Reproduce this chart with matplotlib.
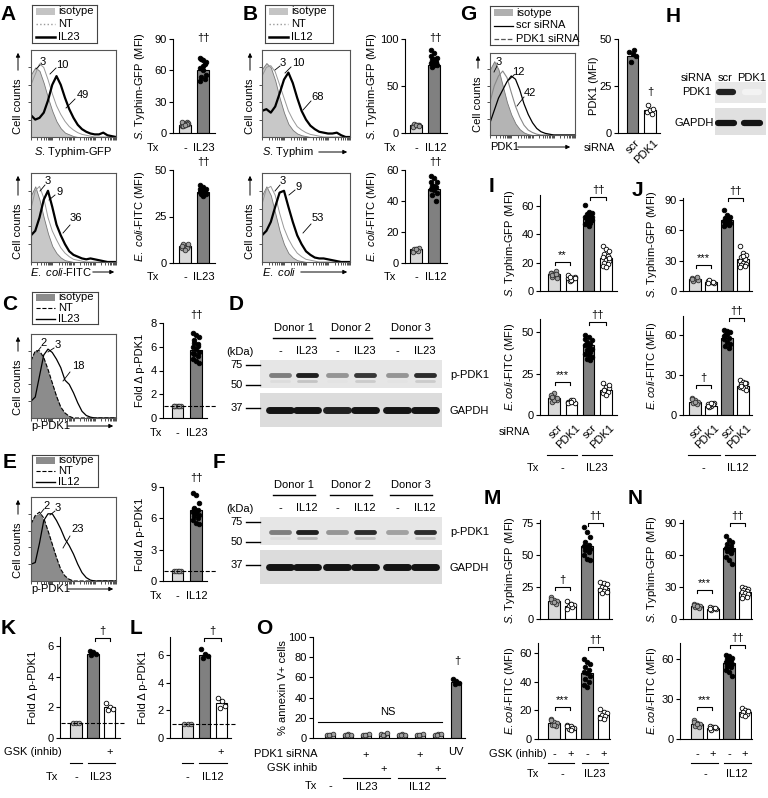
import numpy as np
import matplotlib
matplotlib.use('Agg')
import matplotlib.pyplot as plt
from matplotlib.lines import Line2D
from matplotlib.patches import Rectangle, FancyArrowPatch

plt.rcParams['font.family'] = ['Liberation Sans', 'DejaVu Sans']
plt.rcParams['mathtext.fontset'] = 'custom'
plt.rcParams['mathtext.rm'] = 'Liberation Sans'
plt.rcParams['mathtext.it'] = 'Liberation Sans:italic'
plt.rcParams['font.size'] = 8

# ---------------- data ----------------
# flow histograms, fraction of axis height on a 21 point grid along the log axis
hA1_iso = [0.72, 0.80, 0.76, 0.62, 0.45, 0.30, 0.18, 0.10, 0.05, 0.03, 0.01, 0, 0, 0, 0, 0, 0, 0, 0, 0, 0]
hA1_nt = [0.60, 0.72, 0.84, 0.80, 0.66, 0.50, 0.36, 0.26, 0.18, 0.12, 0.08, 0.05, 0.03, 0.02, 0.01, 0, 0, 0, 0, 0, 0]
hA1_tx = [0.25, 0.20, 0.22, 0.28, 0.42, 0.60, 0.70, 0.60, 0.45, 0.32, 0.22, 0.14, 0.09, 0.06, 0.04, 0.03, 0.03, 0.05, 0.02, 0.01, 0]
hA2_iso = [0.75, 0.85, 0.70, 0.50, 0.32, 0.18, 0.10, 0.05, 0.02, 0.01, 0, 0, 0, 0, 0, 0, 0, 0, 0, 0, 0]
hA2_nt = [0.60, 0.80, 0.85, 0.72, 0.50, 0.35, 0.25, 0.16, 0.10, 0.06, 0.03, 0.02, 0.01, 0, 0, 0, 0, 0, 0, 0, 0]
hA2_tx = [0.30, 0.35, 0.50, 0.70, 0.80, 0.62, 0.42, 0.30, 0.20, 0.12, 0.08, 0.06, 0.04, 0.03, 0.04, 0.03, 0.02, 0.01, 0, 0, 0]
hB1_iso = [0.78, 0.85, 0.80, 0.65, 0.45, 0.28, 0.15, 0.08, 0.04, 0.02, 0.01, 0, 0, 0, 0, 0, 0, 0, 0, 0, 0]
hB1_nt = [0.70, 0.80, 0.82, 0.75, 0.60, 0.45, 0.30, 0.20, 0.12, 0.08, 0.05, 0.03, 0.02, 0.01, 0, 0, 0, 0, 0, 0, 0]
hB1_tx = [0.30, 0.32, 0.28, 0.35, 0.50, 0.66, 0.74, 0.62, 0.45, 0.30, 0.20, 0.13, 0.09, 0.06, 0.05, 0.04, 0.04, 0.05, 0.02, 0, 0]
hB2_iso = [0.75, 0.85, 0.75, 0.55, 0.35, 0.20, 0.10, 0.05, 0.02, 0.01, 0, 0, 0, 0, 0, 0, 0, 0, 0, 0, 0]
hB2_nt = [0.65, 0.82, 0.85, 0.75, 0.55, 0.38, 0.26, 0.17, 0.10, 0.06, 0.03, 0.02, 0.01, 0, 0, 0, 0, 0, 0, 0, 0]
hB2_tx = [0.30, 0.35, 0.45, 0.62, 0.78, 0.80, 0.62, 0.45, 0.30, 0.20, 0.12, 0.08, 0.05, 0.04, 0.04, 0.03, 0.02, 0.01, 0, 0, 0]
hC_iso = [0.70, 0.80, 0.78, 0.70, 0.55, 0.40, 0.25, 0.12, 0.05, 0.02, 0, 0, 0, 0, 0, 0, 0, 0, 0, 0, 0]
hC_nt = [0.68, 0.80, 0.80, 0.72, 0.58, 0.42, 0.26, 0.13, 0.06, 0.02, 0, 0, 0, 0, 0, 0, 0, 0, 0, 0, 0]
hC_tx = [0.20, 0.25, 0.50, 0.75, 0.82, 0.78, 0.70, 0.60, 0.45, 0.40, 0.30, 0.18, 0.08, 0.03, 0.01, 0, 0, 0, 0, 0, 0]
hE_iso = [0.70, 0.78, 0.80, 0.72, 0.58, 0.42, 0.26, 0.12, 0.05, 0.02, 0, 0, 0, 0, 0, 0, 0, 0, 0, 0, 0]
hE_nt = [0.68, 0.78, 0.82, 0.75, 0.60, 0.44, 0.28, 0.14, 0.06, 0.02, 0, 0, 0, 0, 0, 0, 0, 0, 0, 0, 0]
hE_tx = [0.20, 0.22, 0.45, 0.72, 0.80, 0.80, 0.72, 0.62, 0.50, 0.42, 0.32, 0.20, 0.10, 0.04, 0.01, 0, 0, 0, 0, 0, 0]
hG_iso = [0.80, 0.90, 0.80, 0.60, 0.40, 0.25, 0.14, 0.07, 0.03, 0.01, 0, 0, 0, 0, 0, 0, 0, 0, 0, 0, 0]
hG_pdk = [0.40, 0.60, 0.72, 0.78, 0.70, 0.52, 0.35, 0.22, 0.12, 0.06, 0.03, 0.01, 0, 0, 0, 0, 0, 0, 0, 0, 0]
hG_scr = [0.15, 0.30, 0.45, 0.55, 0.65, 0.72, 0.68, 0.55, 0.38, 0.25, 0.15, 0.08, 0.04, 0.02, 0.01, 0, 0, 0, 0, 0, 0]

# bar charts: means and individual donors
A1_means = [8, 60]
A1_dots = [[7, 8, 9, 10, 11, 8, 9, 10, 7, 9, 11, 8], [72, 70, 68, 71, 66, 62, 60, 56, 54, 52, 50, 64]]
A2_means = [9, 38]
A2_dots = [[8, 9, 9, 10, 8, 9, 7, 10], [42, 41, 40, 39, 38, 38, 39, 37, 37, 38, 40, 36]]
B1_means = [8, 72]
B1_dots = [[7, 8, 9, 10, 8, 6, 9, 7], [88, 85, 80, 78, 76, 74, 72, 72, 70, 75, 82, 79]]
B2_means = [9, 48]
B2_dots = [[8, 9, 10, 9, 8, 7, 9], [56, 55, 52, 50, 49, 48, 47, 45, 44, 40, 52, 50]]
C_means = [1, 5.7]
C_dots = [[1, 1, 1, 1, 1, 1], [7.2, 7.0, 6.8, 6.6, 6.2, 6.0, 5.8, 5.6, 5.4, 5.2, 5.0, 4.8, 4.6, 6.3, 6.1, 5.5]]
E_means = [1, 6.8]
E_dots = [[1, 1, 1, 1, 1], [8.4, 8.2, 7.5, 7.0, 6.8, 6.6, 6.5, 6.3, 6.2, 6.0, 5.8, 5.6, 5.5, 6.9]]
G_means = [41, 12]
G_dots = [[43, 42, 41, 38, 44], [11, 12, 13, 15, 10]]
I1_means = [12, 9, 51, 23]
I1_dots = [[13, 12, 11, 10, 14, 13, 12, 9, 11, 12], [9, 8, 10, 7, 9, 11, 8, 9, 10],
           [61, 56, 55, 54, 53, 52, 51, 50, 49, 48, 47, 46, 52, 51], [32, 30, 28, 26, 25, 24, 22, 21, 20, 19, 18, 17, 23]]
I2_means = [10, 8, 42, 15]
I2_dots = [[11, 13, 9, 8, 10, 12, 9, 10, 11], [8, 9, 7, 8, 9, 7, 8],
           [48, 47, 45, 44, 43, 42, 41, 40, 39, 38, 37, 36, 35, 34, 33, 46], [19, 17, 16, 15, 14, 13, 12, 18, 15]]
J1_means = [12, 9, 70, 32]
J1_dots = [[13, 12, 11, 10, 14, 12], [10, 9, 8, 11, 9, 8],
           [80, 75, 73, 72, 70, 69, 68, 67, 66, 65, 64, 71], [45, 38, 36, 34, 32, 30, 28, 27, 26, 25, 24, 35]]
J2_means = [10, 7, 58, 22]
J2_dots = [[13, 11, 10, 9, 8, 12, 10], [8, 7, 9, 6, 8, 7, 9],
           [64, 63, 62, 60, 58, 57, 55, 53, 52, 50, 59, 61], [26, 25, 24, 23, 22, 21, 20, 19, 22, 24]]
M1_means = [14, 10, 57, 24]
M1_dots = [[17, 15, 14, 13, 12, 16, 13], [14, 12, 11, 10, 9, 8, 12],
           [72, 68, 64, 60, 58, 57, 56, 55, 54, 52, 50, 47, 46], [29, 28, 27, 25, 24, 23, 22, 21, 20]]
M2_means = [11, 8, 46, 17]
M2_dots = [[14, 12, 11, 10, 9, 13, 10], [10, 9, 8, 7, 8, 9, 6],
           [56, 54, 52, 50, 48, 47, 46, 44, 42, 40, 38, 36], [21, 19, 18, 17, 16, 15, 14]]
N1_means = [12, 9, 67, 25]
N1_dots = [[14, 13, 12, 11, 10, 13, 12], [11, 10, 9, 8, 10, 9],
           [78, 74, 72, 70, 68, 67, 66, 65, 64, 62, 58, 55, 52], [30, 29, 28, 27, 26, 25, 24, 23, 22, 21, 20]]
N2_means = [11, 8, 57, 20]
N2_dots = [[14, 12, 11, 10, 9, 13, 11], [10, 9, 8, 7, 9, 8],
           [63, 62, 61, 60, 59, 58, 57, 56, 55, 54, 52, 50, 47], [23, 22, 21, 20, 19, 18, 17, 21]]
K_means = [1, 5.5, 2.0]
K_dots = [[1.0, 1.0, 1.0], [5.7, 5.6, 5.5, 5.4], [2.3, 2.0, 1.9, 1.8]]
L_means = [1, 6.0, 2.5]
L_dots = [[1.0, 1.0, 1.0], [6.4, 6.1, 5.9, 5.8], [2.9, 2.7, 2.3, 2.2]]
O_means = [3, 3, 3, 3, 3, 3, 3, 55]
O_dots = [[3, 3, 4, 3], [3, 4, 3, 3], [3, 3, 4, 3], [4, 3, 5, 3], [3, 4, 3, 3], [3, 3, 4, 3], [3, 4, 4, 3], [58, 56, 54, 53]]

# western blot band intensities (0..1), lanes: -, IL, -, IL, -, IL
D_pPDK1 = [0.55, 0.95, 0.45, 0.85, 0.45, 0.90]
D_lower = [0.15, 0.25, 0.12, 0.22, 0.12, 0.22]
D_gapdh = [1.0, 1.0, 0.95, 1.0, 1.0, 1.0]
F_pPDK1 = [0.55, 0.95, 0.45, 0.90, 0.40, 0.90]
F_lower = [0.15, 0.30, 0.12, 0.25, 0.12, 0.25]
F_gapdh = [1.0, 1.0, 1.0, 1.0, 1.0, 1.0]
H_pdk1 = [0.95, 0.05]
H_gapdh = [1.0, 1.0]

# ---------------- helpers ----------------
W, H = 768, 798
fig = plt.figure(figsize=(W / 100, H / 100), dpi=100)

BAR = {'c': '#d9d9d9', 't': '#808080', 'w': 'white'}
DOT = {'c': '#a0a0a0', 't': 'black', 'w': 'white'}
EDGE = {'c': '#303030', 't': 'black', 'w': 'black'}

S_TY = r'$\mathit{S.}\,$Typhim'
E_CO = r'$\mathit{E.\ coli}$'


def fx(x):
    return x / W


def fy(y):
    return 1 - y / H


def text(x, y, s, size=8, ha='center', va='center', **kw):
    fig.text(fx(x), fy(y), s, size=size, ha=ha, va=va, **kw)


def line(xs, ys, lw=0.8, color='k', **kw):
    fig.add_artist(Line2D([fx(x) for x in xs], [fy(y) for y in ys], color=color, lw=lw, **kw))


def arrow(x0, y0, x1, y1):
    fig.add_artist(FancyArrowPatch((fx(x0), fy(y0)), (fx(x1), fy(y1)), transform=fig.transFigure,
                                   arrowstyle='-|>', mutation_scale=6, lw=0.7, color='k'))


def box_ax(x0, y0, x1, y1):
    return fig.add_axes([fx(x0), fy(y1), (x1 - x0) / W, (y1 - y0) / H])


def bracket(x0, x1, y, s):
    line([x0, x0, x1, x1], [y + 3, y, y, y + 3])
    text((x0 + x1) / 2, y - 7, s, size=8)


def panel_letter(x, y, s):
    text(x, y, s, size=15, weight='bold')


def legend_box(x0, y0, x1, y1, entries):
    ax = box_ax(x0, y0, x1, y1)
    ax.set_xlim(x0, x1)
    ax.set_ylim(y1, y0)
    ax.set_xticks([])
    ax.set_yticks([])
    for sp in ax.spines.values():
        sp.set_linewidth(0.8)
        sp.set_color('#444444')
    n = len(entries)
    for i, (lab, kind, col, ls, lw) in enumerate(entries):
        yy = y0 + (i + 0.5) * (y1 - y0) / n
        if kind == 'fill':
            ax.add_patch(Rectangle((x0 + 4, yy - 3.5), 19, 7, color=col, lw=0))
        else:
            ax.plot([x0 + 4, x0 + 23], [yy, yy], color=col, ls=ls, lw=lw)
        ax.text(x0 + 26, yy, lab, va='center', ha='left', size=8)


def hist_panel(x0, y0, x1, y1, curves, marks):
    ax = box_ax(x0, y0, x1, y1)
    xs = np.linspace(0, 1, 21)
    for vals, kind, col, ls, lw in curves:
        if kind == 'fill':
            ax.fill_between(xs, vals, color=col, lw=0.6, edgecolor='#777777')
        else:
            ax.plot(xs, vals, color=col, ls=ls, lw=lw)
    ax.set_xlim(0, 1)
    ax.set_ylim(0, 1)
    minor = [d * 0.25 + np.log10(k) * 0.25 for d in range(4) for k in range(1, 10)]
    ax.set_xticks(minor + [1.0])
    ax.set_xticklabels([])
    ax.set_yticks([0.2, 0.4, 0.6, 0.8])
    ax.set_yticklabels([])
    ax.tick_params(length=2, width=0.6, colors='#333333')
    for sp in ax.spines.values():
        sp.set_linewidth(0.8)
        sp.set_color('#555555')
    for s, tx, ty, lx0, ly0, lx1, ly1 in marks:
        text(tx, ty, s, size=8)
        line([lx0, lx1], [ly0, ly1], lw=0.6)
    return ax


def cell_counts(x, ybot, ytop):
    text(x, ybot - 31, 'Cell counts', rotation=90)
    arrow(x, ybot - 64, x, ytop)


def bar_panel(x0, x1, zero, tick_px, tick_val, ytop, yticks, c0, sp, means, dots, styles,
              ylabel, ylab_x, bw=11.5, pos=None):
    ppu = (zero - tick_px) / tick_val
    top = zero - ytop * ppu
    ax = box_ax(x0, top, x1, zero)
    ax.set_ylim(0, ytop)
    ax.set_xlim((x0 - c0) / sp, (x1 - c0) / sp)
    w = bw / sp
    if pos is None:
        pos = range(len(means))
    for i, m, d, st in zip(pos, means, dots, styles):
        ax.bar(i, m, width=w, color=BAR[st], edgecolor='k', lw=0.8, zorder=2)
        offs = np.resize([-0.28, 0.0, 0.28, -0.14, 0.14], len(d)) * w
        ax.scatter(i + offs, d, s=11, c=DOT[st], edgecolors=EDGE[st], linewidths=0.6,
                   zorder=3, clip_on=False)
    ax.set_yticks(yticks)
    ax.set_xticks([])
    ax.spines['top'].set_visible(False)
    ax.spines['right'].set_visible(False)
    ax.spines['left'].set_linewidth(0.8)
    ax.spines['bottom'].set_linewidth(0.8)
    ax.tick_params(axis='y', length=3, width=0.8, pad=1.5, labelsize=8)
    text(ylab_x, (top + zero) / 2, ylabel, rotation=90)
    return ax


def blot(x0, y0, x1, y1, lanes, rows, bg='#e4e4e4'):
    ax = box_ax(x0, y0, x1, y1)
    ax.set_xlim(x0, x1)
    ax.set_ylim(y1, y0)
    ax.set_facecolor(bg)
    ax.set_xticks([])
    ax.set_yticks([])
    for s in ax.spines.values():
        s.set_visible(False)
    for yb, vals, lw, hw in rows:
        for xl, v in zip(lanes, vals):
            g = 1 - 0.92 * v
            ax.plot([xl - hw, xl + hw], [yb, yb], color=(g, g, g), lw=lw, solid_capstyle='round')


# ---------------- panel A ----------------
panel_letter(8, 15, 'A')
legend_box(32, 5, 97, 43, [('isotype', 'fill', '#c4c4c4', '-', 1), ('NT', 'line', '#999999', ':', 1.0),
                           ('IL23', 'line', 'black', '-', 1.8)])
hist_panel(31, 50, 116, 137, [(hA1_iso, 'fill', '#c8c8c8', '-', 1), (hA1_nt, 'line', '#999999', '-', 0.7),
                              (hA1_tx, 'line', 'black', '-', 1.6)],
           [('3', 43, 62, 36, 69, 40, 65), ('10', 62, 65, 50, 74, 56, 68), ('49', 83, 95, 66, 108, 75, 99)])
cell_counts(18, 137, 50)
text(73, 152, S_TY + '-GFP')
hist_panel(31, 173, 116, 262, [(hA2_iso, 'fill', '#c8c8c8', '-', 1), (hA2_nt, 'line', '#999999', '-', 0.7),
                               (hA2_tx, 'line', 'black', '-', 1.6)],
           [('3', 48, 181, 40, 191, 45, 185), ('9', 60, 192, 49, 200, 55, 195), ('36', 76, 218, 63, 233, 70, 225)])
cell_counts(18, 262, 173)
text(30, 272, E_CO + '-FITC', ha='left')
arrow(90, 272, 117, 272)

bar_panel(173, 215, 133, 39, 90, 90, [0, 30, 60, 90], 185, 18, A1_means, A1_dots, 'ct',
          S_TY + '-GFP (MFI)', 140)
text(203, 38, '††', size=8)
text(153, 148, 'Tx')
text(185, 148, '-')
text(204, 148, 'IL23')
bar_panel(173, 215, 263, 170, 50, 50, [0, 25, 50], 185, 18, A2_means, A2_dots, 'ct',
          E_CO + '-FITC (MFI)', 140)
text(203, 162, '††', size=8)
text(153, 277, 'Tx')
text(185, 277, '-')
text(204, 277, 'IL23')

# ---------------- panel B ----------------
panel_letter(250, 15, 'B')
legend_box(265, 5, 333, 43, [('isotype', 'fill', '#c4c4c4', '-', 1), ('NT', 'line', '#999999', ':', 1.0),
                             ('IL12', 'line', 'black', '-', 1.8)])
hist_panel(262, 50, 350, 137, [(hB1_iso, 'fill', '#c8c8c8', '-', 1), (hB1_nt, 'line', '#999999', '-', 0.7),
                               (hB1_tx, 'line', 'black', '-', 1.6)],
           [('3', 283, 63, 275, 70, 280, 66), ('10', 298, 63, 285, 73, 291, 67), ('68', 318, 97, 303, 110, 311, 101)])
cell_counts(250, 137, 50)
text(262, 152, S_TY, ha='left')
arrow(316, 152, 350, 152)
hist_panel(262, 173, 350, 262, [(hB2_iso, 'fill', '#c8c8c8', '-', 1), (hB2_nt, 'line', '#999999', '-', 0.7),
                                (hB2_tx, 'line', 'black', '-', 1.6)],
           [('3', 283, 181, 275, 191, 280, 185), ('9', 299, 187, 289, 195, 295, 190), ('53', 318, 218, 303, 233, 311, 224)])
cell_counts(250, 262, 173)
text(262, 272, E_CO, ha='left')
arrow(298, 272, 350, 272)

bar_panel(405, 447, 133, 39, 100, 100, [0, 50, 100], 416, 18, B1_means, B1_dots, 'ct',
          S_TY + '-GFP (MFI)', 372)
text(435, 38, '††', size=8)
text(390, 148, 'Tx')
text(416, 148, '-')
text(436, 148, 'IL12')
bar_panel(405, 447, 263, 170, 60, 60, [0, 20, 40, 60], 416, 18, B2_means, B2_dots, 'ct',
          E_CO + '-FITC (MFI)', 372)
text(435, 162, '††', size=8)
text(390, 277, 'Tx')
text(416, 277, '-')
text(436, 277, 'IL12')

# ---------------- panel G / H ----------------
panel_letter(468, 15, 'G')
legend_box(490, 6, 578, 45, [('isotype', 'fill', '#b0b0b0', '-', 1), ('scr siRNA', 'line', 'black', '-', 0.9),
                             ('PDK1 siRNA', 'line', '#555555', '--', 0.9)])
hist_panel(490, 53, 575, 135, [(hG_iso, 'fill', '#b4b4b4', '-', 1), (hG_pdk, 'line', '#888888', '-', 0.8),
                               (hG_scr, 'line', 'black', '-', 0.9)],
           [('3', 499, 62, 494, 72, 497, 66), ('12', 518, 72, 509, 80, 514, 75), ('42', 530, 93, 517, 106, 524, 97)])
cell_counts(478, 135, 53)
text(490, 147, 'PDK1', ha='left')
arrow(515, 147, 573, 147)
bar_panel(618, 660, 133, 39, 50, 50, [0, 25, 50], 632.5, 17.5, G_means, G_dots, 'tw', 'PDK1 (MFI)', 594)
text(650, 92, '†', size=8)
text(599, 148, 'siRNA')
text(638, 141, 'scr', rotation=45, ha='right', rotation_mode='anchor')
text(657, 141, 'PDK1', rotation=45, ha='right', rotation_mode='anchor')

panel_letter(673, 17, 'H')
text(696, 78, 'siRNA')
text(725, 78, 'scr')
text(752, 78, 'PDK1')
blot(715, 82, 766, 103, [726, 752], [(92, H_pdk1, 4.5, 7)], bg='#e8e8e8')
blot(715, 108, 766, 135, [726, 752], [(123, H_gapdh, 4.5, 8)], bg='#e0e0e0')
text(697, 92, 'PDK1')
text(694, 123, 'GAPDH')


# ---------------- panels C / E ----------------
def phospho_block(y_off, tx_lab, hist_curves, marks, means, dots, ytop, yticks, tick_px, tick_val):
    legend_box(32, 292 + y_off, 98, 324 + y_off,
               [('isotype', 'fill', '#8c8c8c', '-', 1), ('NT', 'line', 'black', '--', 0.8),
                (tx_lab, 'line', 'black', '-', 1.0)])
    hist_panel(31, 334 + y_off, 116, 418 + y_off, hist_curves, marks)
    cell_counts(18, 418 + y_off, 334 + y_off)
    text(31, 426 + y_off, 'p-PDK1', ha='left')
    arrow(65, 426 + y_off, 116, 426 + y_off)
    ax = bar_panel(163, 207, 418 + y_off, tick_px + y_off, tick_val, ytop, yticks, 177.5, 18.5,
                   means, dots, 'ct', 'Fold Δ p-PDK1', 140)
    ax.plot([-0.75, 2.1], [1, 1], 'k--', lw=0.8, clip_on=False, zorder=4)
    text(196, 315 + y_off, '††', size=8)
    text(156, 433 + y_off, 'Tx')
    text(177, 433 + y_off, '-')
    text(197, 433 + y_off, tx_lab)


panel_letter(10, 304, 'C')
phospho_block(0, 'IL23',
              [(hC_iso, 'fill', '#8c8c8c', '-', 1), (hC_nt, 'line', 'black', '--', 0.8),
               (hC_tx, 'line', 'black', '-', 0.9)],
              [('2', 44, 343, 37, 352, 41, 347), ('3', 58, 345, 48, 352, 54, 348), ('18', 78, 366, 63, 381, 70, 372)],
              C_means, C_dots, 8, [0, 2, 4, 6, 8], 323, 8)
panel_letter(10, 463, 'E')
phospho_block(163, 'IL12',
              [(hE_iso, 'fill', '#8c8c8c', '-', 1), (hE_nt, 'line', 'black', '--', 0.8),
               (hE_tx, 'line', 'black', '-', 0.9)],
              [('2', 47, 506, 40, 514, 44, 509), ('3', 58, 508, 50, 515, 55, 511), ('23', 78, 529, 63, 548, 70, 536)],
              E_means, E_dots, 9, [0, 3, 6, 9], 487 - 163, 9)


# ---------------- panels D / F (blots) ----------------
def blot_block(y_off, tx_lab, p_vals, low_vals, g_vals):
    lanes = [280, 307, 337, 365, 397, 425]
    for i, cx in enumerate([294, 351, 411]):
        text(cx, 328 + y_off, 'Donor %d' % (i + 1))
        line([cx - 21, cx + 21], [338 + y_off, 338 + y_off], lw=1.0)
    text(240, 352 + y_off, '(kDa)')
    for i, cx in enumerate(lanes):
        text(cx, 351 + y_off, '-' if i % 2 == 0 else tx_lab)
    blot(260, 360 + y_off, 442, 388 + y_off, lanes,
         [(375 + y_off, p_vals, 3.5, 9), (381 + y_off, low_vals, 2.0, 9)], bg='#e6e6e6')
    blot(260, 393 + y_off, 442, 427 + y_off, lanes, [(410 + y_off, g_vals, 5.0, 11)], bg='#dcdcdc')
    for lab, yy in [('75', 365), ('50', 385), ('37', 408)]:
        text(243, yy + y_off, lab, ha='right')
        line([246, 260], [yy + y_off, yy + y_off], lw=1.0)
    text(450, 375 + y_off, 'p-PDK1', ha='left')
    text(450, 411 + y_off, 'GAPDH', ha='left')


panel_letter(236, 304, 'D')
blot_block(0, 'IL23', D_pPDK1, D_lower, D_gapdh)
panel_letter(219, 463, 'F')
blot_block(157, 'IL12', F_pPDK1, F_lower, F_gapdh)

# ---------------- panels I / J ----------------
panel_letter(492, 187, 'I')
panel_letter(637, 190, 'J')
stI = ['c', 'w', 't', 'w']
bar_panel(540, 617, 291, 206, 60, 68, [0, 20, 40, 60], 554, 17.3, I1_means, I1_dots, stI,
          S_TY + '-GFP (MFI)', 510)
bracket(590, 606, 197, '††')
bracket(555, 570, 262, '**')
bar_panel(540, 617, 415, 332, 50, 58, [0, 25, 50], 554, 17.3, I2_means, I2_dots, stI,
          r'$\mathit{E.coli}$-FITC (MFI)', 510)
bracket(589, 606, 322, '††')
bracket(555, 570, 382, '***')
bar_panel(683, 752, 291, 200, 90, 92, [0, 30, 60, 90], 695, 16, J1_means, J1_dots, stI,
          S_TY + '-GFP (MFI)', 652)
bracket(728, 743, 198, '††')
bracket(696, 711, 265, '***')
bar_panel(683, 752, 415, 335, 60, 74, [0, 30, 60], 695, 16, J2_means, J2_dots, stI,
          r'$\mathit{E.coli}$-FITC (MFI)', 652)
bracket(729, 744, 318, '††')
bracket(696, 711, 385, '†')

text(530, 432, 'siRNA', ha='right')
for cx, s in zip([554, 571.3, 588.6, 606], ['scr', 'PDK1', 'scr', 'PDK1']):
    text(cx + 7, 426, s, rotation=45, ha='right', rotation_mode='anchor')
for cx, s in zip([695, 711, 727, 743], ['scr', 'PDK1', 'scr', 'PDK1']):
    text(cx + 7, 426, s, rotation=45, ha='right', rotation_mode='anchor')
line([547, 577], [455, 455])
line([582, 612], [455, 455])
line([688, 720], [455, 455])
line([725, 755], [455, 455])
text(533, 468, 'Tx')
text(562, 468, '-')
text(597, 468, 'IL23')
text(703, 468, '-')
text(738, 468, 'IL12')

# ---------------- panels M / N ----------------
panel_letter(492, 498, 'M')
panel_letter(635, 498, 'N')
stM = ['c', 'w', 't', 'w']
bar_panel(540, 612, 619, 523, 75, 77, [0, 25, 50, 75], 554, 16.5, M1_means, M1_dots, stM,
          S_TY + '-GFP (MFI)', 510)
bracket(588, 603, 523, '††')
bracket(555, 570, 587, '†')
bar_panel(538, 610, 739, 653, 60, 67, [0, 20, 40, 60], 554, 16.5, M2_means, M2_dots, stM,
          r'$\mathit{E.coli}$-FITC (MFI)', 510)
bracket(588, 603, 647, '††')
bracket(555, 570, 707, '***')
bar_panel(683, 752, 619, 523, 90, 93, [0, 30, 60, 90], 697, 16, N1_means, N1_dots, stM,
          S_TY + '-GFP (MFI)', 652)
bracket(730, 745, 523, '††')
bracket(697, 712, 590, '***')
bar_panel(680, 752, 739, 659, 60, 72, [0, 30, 60], 697, 16, N2_means, N2_dots, stM,
          r'$\mathit{E.coli}$-FITC (MFI)', 652)
bracket(730, 745, 645, '††')
bracket(697, 712, 707, '***')

text(547, 754, 'GSK (inhib)', ha='right')
for cx, s in zip([554, 570.5, 587, 603.5, 697, 713, 729, 745], ['-', '+', '-', '+'] * 2):
    text(cx, 754, s)
line([548, 574], [763, 763])
line([582, 608], [763, 763])
line([691, 718], [763, 763])
line([724, 751], [763, 763])
text(533, 774, 'Tx')
text(562, 774, '-')
text(595, 774, 'IL23')
text(705, 774, '-')
text(737, 774, 'IL12')

# ---------------- panels K / L ----------------
panel_letter(8, 628, 'K')
panel_letter(136, 628, 'L')
axK = bar_panel(60, 120, 738, 646, 6, 6.6, [0, 2, 4, 6], 76, 16.75, K_means, K_dots, 'ctw',
                'Fold Δ p-PDK1', 33)
axK.plot([-0.9, 2.9], [1, 1], 'k--', lw=0.8, clip_on=False, zorder=4)
bracket(95, 110, 638, '†')
axL = bar_panel(170, 231, 738, 655, 6, 7.3, [0, 2, 4, 6], 187.5, 17, L_means, L_dots, 'ctw',
                'Fold Δ p-PDK1', 143)
axL.plot([-0.9, 2.8], [1, 1], 'k--', lw=0.8, clip_on=False, zorder=4)
bracket(204, 221, 638, '†')
text(62, 752, 'GSK (inhib)', ha='right')
text(110, 752, '+')
text(221, 752, '+')
line([70, 82], [763, 763])
line([88, 115], [763, 763])
line([182, 193], [763, 763])
line([199, 227], [763, 763])
text(52, 777, 'Tx')
text(76, 777, '-')
text(101, 777, 'IL23')
text(187, 777, '-')
text(213, 777, 'IL12')

# ---------------- panel O ----------------
panel_letter(264, 628, 'O')
stO = ['c'] * 7 + ['t']
bar_panel(313, 465, 738, 637, 100, 100, [0, 20, 40, 60, 80, 100], 330, 18, O_means, O_dots, stO,
          '% annexin V+ cells', 283, bw=10)
line([318, 442], [722, 722])
text(388, 712, 'NS')
text(457, 661, '†', size=8)
text(317, 754, 'PDK1 siRNA', ha='right')
text(317, 768, 'GSK inhib', ha='right')
text(317, 786, 'Tx', ha='right')
text(366, 755, '+')
text(420, 755, '+')
text(384, 769, '+')
text(438, 769, '+')
line([343, 390], [778, 778])
line([398, 445], [778, 778])
text(330, 786, '-')
text(367, 787, 'IL23')
text(420, 787, 'IL12')
text(456, 752, 'UV')

fig.savefig('out.png', dpi=100)
